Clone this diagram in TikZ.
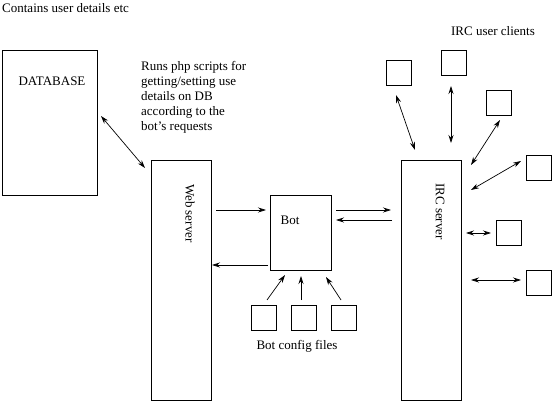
\documentclass[tikz,border=0pt]{standalone}
\usepackage{fontspec}
\setmainfont{Liberation Serif}
\usetikzlibrary{arrows.meta}
\begin{document}
\begin{tikzpicture}[x=1pt,y=-1pt,
  box/.style={draw, line width=0.8pt, inner sep=0pt, anchor=north west},
  sq/.style={box, minimum width=25pt, minimum height=25pt},
  lbl/.style={font=\fontsize{13}{15}\selectfont, inner sep=0pt},
  tip/.tip={Stealth[length=8pt,width=5pt]},
  arr/.style={line width=0.7pt, -tip},
  biarr/.style={line width=0.7pt, tip-tip}]
\useasboundingbox (0,0) rectangle (552,401);
% boxes
\node[box, minimum width=95pt, minimum height=145pt] (db) at (2,50) {};
\node[box, minimum width=60pt, minimum height=240pt] (web) at (151,160) {};
\node[box, minimum width=61pt, minimum height=75pt] (bot) at (270,195) {};
\node[box, minimum width=60pt, minimum height=240pt] (irc) at (401,160) {};
\node[sq] (cfgA) at (251,305) {};
\node[sq] (cfgB) at (291,305) {};
\node[sq] (cfgC) at (331,305) {};
\node[sq] (cA) at (386,60) {};
\node[sq] (cB) at (441,50) {};
\node[sq] (cC) at (486,90) {};
\node[sq] (cD) at (526,155) {};
\node[sq] (cE) at (496,220) {};
\node[sq] (cF) at (526,270) {};
% texts
\node[lbl, anchor=west] (contains) at (2,8) {Contains user details etc};
\node[lbl] (dbtext) at (52,81) {DATABASE};
\node[lbl, anchor=north west, align=left] (runs) at (141,61) {Runs php scripts for\\getting/setting use\\details on DB\\according to the\\bot's requests};
\node[lbl] (bottext) at (290,220) {Bot};
\node[lbl, rotate=-90, anchor=west] (webtext) at (190,184) {Web server};
\node[lbl, rotate=-90, anchor=west] (irctext) at (440,183) {IRC server};
\node[lbl] (cfgtext) at (297,346) {Bot config files};
\node[lbl] (clienttext) at (493,31) {IRC user clients};
% connector end points
\coordinate (dbR) at (101,116);
\coordinate (webL) at (145,168);
\coordinate (webO) at (216,210);
\coordinate (botI) at (266,210);
\coordinate (botO) at (268,265);
\coordinate (webI) at (212,265);
\coordinate (botR1) at (336,210);
\coordinate (ircL1) at (391,210);
\coordinate (ircL2) at (392,220);
\coordinate (botR2) at (336,220);
\coordinate (fA) at (267,300);
\coordinate (bA) at (285,275);
\coordinate (fB) at (301,300);
\coordinate (bB) at (301,276);
\coordinate (fC) at (341,300);
\coordinate (bC) at (326,277);
\coordinate (kA) at (396,95);
\coordinate (iA) at (415,150);
\coordinate (kB) at (451,86);
\coordinate (iB) at (451,143);
\coordinate (kC) at (500,120);
\coordinate (iC) at (471,165);
\coordinate (kD) at (521,161);
\coordinate (iD) at (471,190);
\coordinate (iE) at (466,233);
\coordinate (kE) at (491,233);
\coordinate (iF) at (471,280);
\coordinate (kF) at (521,280);
% connectors
\draw[biarr] (dbR) -- (webL);
\draw[arr] (webO) -- (botI);
\draw[arr] (botO) -- (webI);
\draw[arr] (botR1) -- (ircL1);
\draw[arr] (ircL2) -- (botR2);
\draw[arr] (fA) -- (bA);
\draw[arr] (fB) -- (bB);
\draw[arr] (fC) -- (bC);
\draw[biarr] (kA) -- (iA);
\draw[biarr] (kB) -- (iB);
\draw[biarr] (kC) -- (iC);
\draw[biarr] (kD) -- (iD);
\draw[biarr] (iE) -- (kE);
\draw[biarr] (iF) -- (kF);
\end{tikzpicture}
\end{document}
